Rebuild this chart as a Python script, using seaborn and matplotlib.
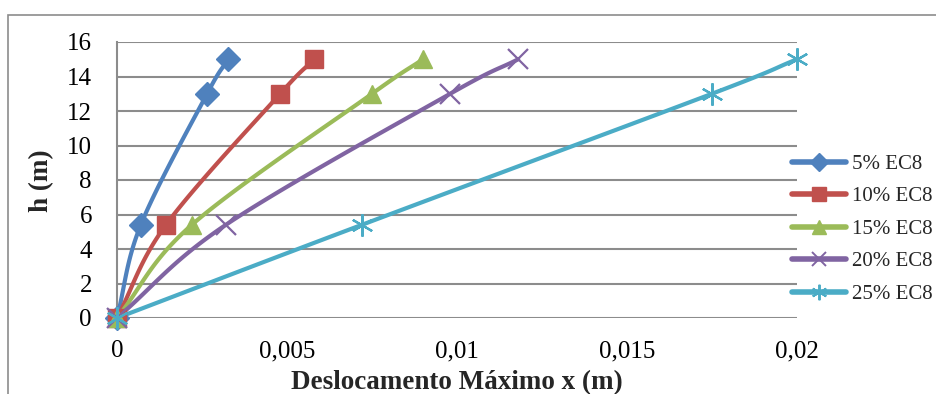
import numpy as np
import pandas as pd
import matplotlib
matplotlib.use("Agg")
import matplotlib.pyplot as plt
from matplotlib.lines import Line2D
from matplotlib.patches import Rectangle
import seaborn as sns

# Storey heights (m) and maximum displacement for each seismic level
heights = [0, 5.4, 13, 15]
disp_5 = [0, 0.0007, 0.00265, 0.00327]
disp_10 = [0, 0.00144, 0.0048, 0.0058]
disp_15 = [0, 0.0022, 0.0075, 0.0090]
disp_20 = [0, 0.0032, 0.0098, 0.0118]
disp_25 = [0, 0.0072, 0.0175, 0.0200]
series_names = ["5% EC8", "10% EC8", "15% EC8", "20% EC8", "25% EC8"]
x_ticks = [0, 0.005, 0.01, 0.015, 0.02]
x_tick_labels = ["0", "0,005", "0,01", "0,015", "0,02"]
y_ticks = [0, 2, 4, 6, 8, 10, 12, 14, 16]

colors = ["#4F81BD", "#C0504D", "#9BBB59", "#8064A2", "#4BACC6"]
markers = ["D", "s", "^", "x", (6, 2, 0)]
msizes = [12, 13, 13, 15, 16]
series = [disp_5, disp_10, disp_15, disp_20, disp_25]

W, H = 937, 394


def smooth(xs, ys, sx, sy, n=40):
    """Catmull-Rom curve through the points, computed in scaled space."""
    p = np.column_stack([np.asarray(xs) / sx, np.asarray(ys) / sy])
    p = np.vstack([p[0] - (p[1] - p[0]), p, p[-1] + (p[-1] - p[-2])])
    out = []
    for i in range(1, len(p) - 2):
        p0, p1, p2, p3 = p[i - 1], p[i], p[i + 1], p[i + 2]
        t = np.linspace(0, 1, n)[:, None]
        seg = 0.5 * ((2 * p1) + (-p0 + p2) * t
                     + (2 * p0 - 5 * p1 + 4 * p2 - p3) * t ** 2
                     + (-p0 + 3 * p1 - 3 * p2 + p3) * t ** 3)
        out.append(seg if i == 1 else seg[1:])
    c = np.vstack(out)
    return c[:, 0] * sx, c[:, 1] * sy


rows = []
for name, d in zip(series_names, series):
    cx, cy = smooth(d, heights, 0.02, 16)
    for k, (a, b) in enumerate(zip(cx, cy)):
        rows.append({"serie": name, "x": a, "h": b, "k": k})
curves = pd.DataFrame(rows)

sns.set_theme(style="white")
plt.rcParams["font.family"] = ["Liberation Serif", "DejaVu Serif"]

fig = plt.figure(figsize=(W / 100, H / 100), dpi=100)
ax = fig.add_axes([117 / W, 76 / H, 680 / W, 276 / H])

sns.lineplot(data=curves, x="x", y="h", hue="serie", palette=colors,
             sort=False, estimator=None, units="serie", linewidth=3,
             legend=False, ax=ax, zorder=3)

for d, c, m, ms in zip(series, colors, markers, msizes):
    if m == "x" or isinstance(m, tuple):
        ax.plot(d, heights, linestyle="none", marker=m, markersize=ms,
                markeredgecolor=c, markeredgewidth=1.6, zorder=4)
    else:
        ax.plot(d, heights, linestyle="none", marker=m, markersize=ms,
                markerfacecolor=c, markeredgecolor=c, zorder=4)

ax.set_xlim(0, 0.02)
ax.set_ylim(0, 16)
ax.set_xticks(x_ticks)
ax.set_xticklabels(x_tick_labels)
ax.set_yticks(y_ticks)
ax.set_xlabel("")
ax.set_ylabel("")
ax.yaxis.grid(True, color="#8C8C8C", linewidth=1.5)
ax.xaxis.grid(False)
for side in ["top", "right", "bottom"]:
    ax.spines[side].set_visible(False)
ax.spines["left"].set_color("#8C8C8C")
ax.spines["left"].set_linewidth(1.5)
ax.tick_params(axis="both", length=0, labelsize=18, colors="black")
ax.tick_params(axis="x", pad=16)
ax.tick_params(axis="y", pad=18)
for lbl in ax.get_xticklabels() + ax.get_yticklabels():
    lbl.set_color("black")
for ln in ax.lines:
    ln.set_clip_on(False)

# axis titles
fig.text(457 / W, 1 - 389 / H, "Deslocamento Máximo x (m)", fontsize=19.5,
         fontweight="bold", ha="center", va="baseline")
fig.text(42 / W, 1 - 181 / H, "h (m)", fontsize=19.5, fontweight="bold",
         rotation=90, ha="center", va="center")

handles = []
for name, c, m, ms in zip(series_names, colors, markers, msizes):
    if m == "x" or isinstance(m, tuple):
        h = Line2D([], [], color=c, linewidth=4, marker=m, markersize=ms * 0.7,
                   markeredgecolor=c, markeredgewidth=1.4,
                   solid_capstyle="round")
    else:
        h = Line2D([], [], color=c, linewidth=4, marker=m, markersize=ms * 0.75,
                   markerfacecolor=c, markeredgecolor=c,
                   solid_capstyle="round")
    handles.append(h)
fig.legend(handles, series_names, loc="center left",
           bbox_to_anchor=(792 / W, 1 - 229 / H), frameon=False,
           fontsize=15, handlelength=2.6, handletextpad=0.3,
           labelspacing=0.62, borderaxespad=0, borderpad=0)

# outer chart frame
fig.patches.append(Rectangle((8 / W, -0.05), 1.0, 1 - 15 / H + 0.05,
                             transform=fig.transFigure, fill=False,
                             edgecolor="#8C8C8C", linewidth=1.2))

fig.savefig("out.png", dpi=100)
